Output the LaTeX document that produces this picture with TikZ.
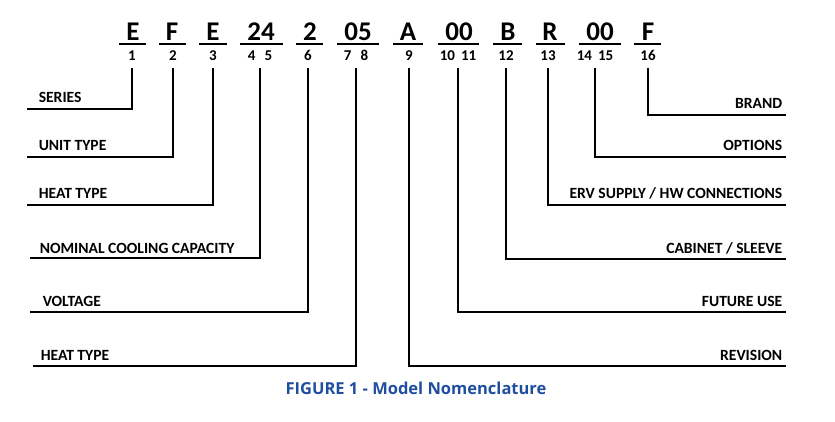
\documentclass[tikz,border=0pt]{standalone}
\usepackage{fontspec}
\setmainfont{Carlito}
\newfontfamily\capfont{Open Sans}
\usepackage{xcolor}
\definecolor{capblue}{RGB}{31,78,160}

\begin{document}
\begin{tikzpicture}[x=1pt, y=-1pt, line width=1.5pt,
    code/.style={anchor=base, inner sep=0pt, font=\fontsize{27}{30}\selectfont\bfseries},
    digit/.style={anchor=base, inner xsep=0pt, inner ysep=6pt, font=\fontsize{15}{17}\selectfont\bfseries},
    lbl/.style={inner sep=0pt, font=\fontsize{15.6}{18}\selectfont\bfseries}]
    \useasboundingbox (0,0) rectangle (835,422);

    % Model code
    \node[code] (c1) at (133,41) {E};
    \node[code] (c2) at (172,41) {F};
    \node[code] (c3) at (213,41) {E};
    \node[code] (c4) at (261,41) {24};
    \node[code] (c5) at (310,41) {2};
    \node[code] (c6) at (358,41) {05};
    \node[code] (c7) at (408,41) {A};
    \node[code] (c8) at (459,41) {00};
    \node[code] (c9) at (508,41) {B};
    \node[code] (c10) at (550,41) {R};
    \node[code] (c11) at (600,41) {00};
    \node[code] (c12) at (648,41) {F};

    % Underlines
    \draw (119,44) -- (146,44);
    \draw (159,44) -- (186,44);
    \draw (199,44) -- (227,44);
    \draw (240,44) -- (283,44);
    \draw (296,44) -- (323,44);
    \draw (337,44) -- (379,44);
    \draw (393,44) -- (423,44);
    \draw (438,44) -- (479,44);
    \draw (493,44) -- (522,44);
    \draw (536,44) -- (565,44);
    \draw (579,44) -- (621,44);
    \draw (634,44) -- (661,44);

    % Positions
    \node[digit] (d1) at (132,61) {1};
    \node[digit] (d2) at (173,61) {2};
    \node[digit] (d3) at (213,61) {3};
    \node[digit] (d4) at (260,61) {4\hspace{9pt}5};
    \node[digit] (d5) at (308,61) {6};
    \node[digit] (d6) at (356,61) {7\hspace{9pt}8};
    \node[digit] (d7) at (409,61) {9};
    \node[digit] (d8) at (458,61) {10\hspace{6pt}11};
    \node[digit] (d9) at (506,61) {12};
    \node[digit] (d10) at (548,61) {13};
    \node[digit] (d11) at (595,61) {14\hspace{6pt}15};
    \node[digit] (d12) at (648,61) {16};

    % Left labels
    \node[lbl, anchor=base west] (series) at (38,103) {SERIES};
    \node[lbl, anchor=base west] (unit) at (38,151) {UNIT TYPE};
    \node[lbl, anchor=base west] (heat) at (38,199) {HEAT TYPE};
    \node[lbl, anchor=base west] (cap) at (39,253) {NOMINAL COOLING CAPACITY};
    \node[lbl, anchor=base west] (volt) at (42,306) {VOLTAGE};
    \node[lbl, anchor=base west] (heatb) at (40,360) {HEAT TYPE};
    \coordinate (e1) at (27,109);
    \coordinate (e2) at (27,157);
    \coordinate (e3) at (27,205);
    \coordinate (e4) at (30,258);
    \coordinate (e5) at (30,312);
    \coordinate (e6) at (33,366);

    % Right labels
    \node[lbl, anchor=base east] (brand) at (783,109) {BRAND};
    \node[lbl, anchor=base east] (opt) at (783,151) {OPTIONS};
    \node[lbl, anchor=base east] (erv) at (783,199) {ERV SUPPLY / HW CONNECTIONS};
    \node[lbl, anchor=base east] (cab) at (783,253) {CABINET / SLEEVE};
    \node[lbl, anchor=base east] (future) at (783,306) {FUTURE USE};
    \node[lbl, anchor=base east] (rev) at (783,360) {REVISION};
    \coordinate (e12) at (786,115);
    \coordinate (e11) at (786,157);
    \coordinate (e10) at (786,205);
    \coordinate (e9) at (786,259);
    \coordinate (e8) at (786,312);
    \coordinate (e7) at (786,366);

    % Leaders
    \draw (d1.south) |- (e1);
    \draw (d2.south) |- (e2);
    \draw (d3.south) |- (e3);
    \draw (d4.south) |- (e4);
    \draw (d5.south) |- (e5);
    \draw (d6.south) |- (e6);
    \draw (d7.south) |- (e7);
    \draw (d8.south) |- (e8);
    \draw (d9.south) |- (e9);
    \draw (d10.south) |- (e10);
    \draw (d11.south) |- (e11);
    \draw (d12.south) |- (e12);

    % Caption
    \node[lbl, text=capblue, font=\capfont\fontsize{16.5}{18}\selectfont\bfseries, anchor=base] (fig) at (416,394) {FIGURE 1 - Model Nomenclature};
\end{tikzpicture}
\end{document}
